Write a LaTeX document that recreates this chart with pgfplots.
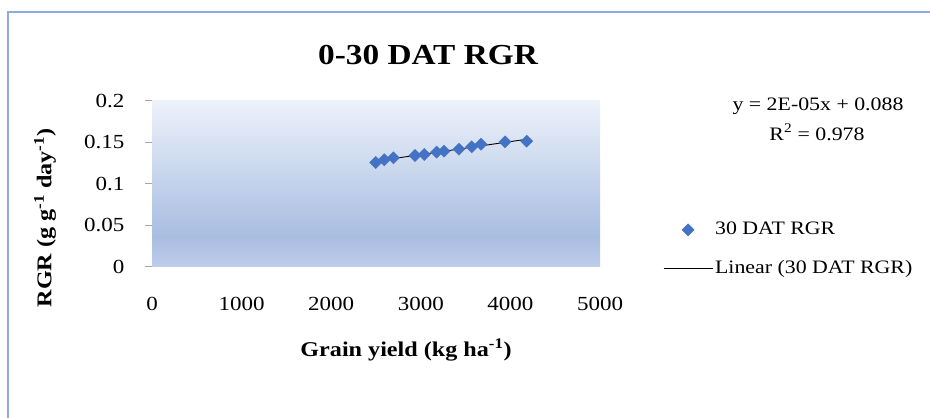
\documentclass[border=0pt]{standalone}
\usepackage{pgfplots}
\usepackage{pgfplotstable}
\pgfplotsset{compat=1.18}
\usepackage{fontspec}
\setmainfont{Liberation Serif}[FakeStretch=1.15]
\definecolor{bgtop}{RGB}{237,242,250}
\definecolor{bgdark}{RGB}{168,189,225}
\definecolor{bgbot}{RGB}{190,205,235}
\definecolor{frameblue}{RGB}{143,170,220}
\definecolor{markblue}{RGB}{68,114,196}
\pgfdeclareverticalshading{rgrbg}{100bp}{color(0bp)=(bgbot); color(25bp)=(bgbot); color(34bp)=(bgdark); color(75bp)=(bgtop); color(100bp)=(bgtop)}
\pgfplotsset{
  legmark/.style={legend image code/.code={\path (0bp,0bp) (49bp,0bp); \draw[##1] plot coordinates {(24.5bp,0bp)};}},
  legline/.style={legend image code/.code={\draw[##1] (0bp,0bp) -- (49bp,0bp);}},
}
\pgfplotstableread{
x y
2497 0.1253
2593 0.1286
2694 0.1310
2935 0.1337
3039 0.1350
3177 0.1378
3259 0.1390
3426 0.1414
3568 0.1442
3672 0.1474
3940 0.1502
4182 0.1510
}\rgrdata
\begin{document}
\begin{tikzpicture}[x=1bp,y=1bp]
\useasboundingbox (0,0) rectangle (930,417);
\clip (0,0) rectangle (930,417);
\draw[frameblue, line width=1.2bp] (8,-20) -- (8,405) -- (950,405);
\begin{axis}[
  scale only axis,
  width=448bp, height=166bp,
  at={(152bp,150.5bp)}, anchor=south west,
  xmin=0, xmax=5000, ymin=0, ymax=0.2,
  xtick={0,1000,2000,3000,4000,5000},
  ytick={0,0.05,0.1,0.15,0.2},
  ytick pos=left,
  axis line style={draw=none},
  xtick style={draw=none},
  ytick style={draw=gray!70, line width=0.8bp},
  tick align=outside,
  major tick length=7bp,
  /pgf/number format/assume math mode=true,
  /pgf/number format/1000 sep={},
  /pgf/number format/fixed,
  tick label style={font=\fontsize{20bp}{24bp}\selectfont},
  xticklabel style={yshift=-20bp},
  yticklabel style={xshift=-17bp},
  axis background/.style={shading=rgrbg},
  legend style={draw=none, fill=none, at={(1.1406,0.103)}, anchor=west,
    inner sep=0pt, row sep=22bp, column sep=2bp,
    nodes={inner sep=0pt, text height=13bp, text depth=4bp, anchor=west},
    font=\fontsize{19bp}{22bp}\selectfont},
  legend cell align=left,
]
\addplot[only marks, mark=square*, mark size=4.3bp, mark options={rotate=45, fill=markblue, draw=markblue}, legmark]
  table[x=x,y=y] {\rgrdata};
\addlegendentry{30 DAT RGR}
\addplot[black, line width=0.9bp, no marks, legline]
  table[x=x, y={create col/linear regression={y=y}}] {\rgrdata};
\addlegendentry{Linear (30 DAT RGR)}
\end{axis}
\node[font=\fontsize{29bp}{34bp}\selectfont\bfseries] at (428,362) {0-30 DAT RGR};
\node[font=\fontsize{21bp}{25bp}\selectfont\bfseries] at (406,67) {Grain yield (kg ha\textsuperscript{-1})};
\node[font=\fontsize{21bp}{25bp}\selectfont\bfseries, rotate=90] at (45,199) {RGR (g g\textsuperscript{-1} day\textsuperscript{-1})};
\node[font=\fontsize{19bp}{22bp}\selectfont] at (818,311) {y = 2E-05x + 0.088};
\node[font=\fontsize{19bp}{22bp}\selectfont] at (817,285) {R\textsuperscript{2} = 0.978};
\end{tikzpicture}
\end{document}
